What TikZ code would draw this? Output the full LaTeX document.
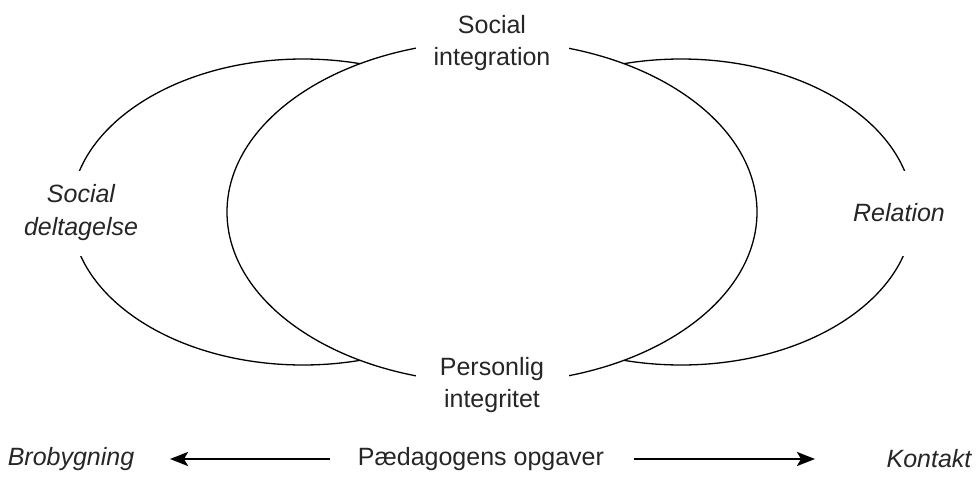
\documentclass[tikz,border=0pt]{standalone}
\usepackage{fontspec}
\setmainfont{Liberation Sans}
\usetikzlibrary{arrows.meta}
\begin{document}
\begin{tikzpicture}[x=1pt,y=-1pt,
  ell/.style={draw=black,line width=1.3pt},
  lbl/.style={font=\fontsize{25}{32}\selectfont,align=center,fill=white,text=black!85,inner sep=3pt},
  ilbl/.style={lbl,font=\fontsize{25}{33}\selectfont\itshape},
  arr/.style={line width=2.6pt,-{Stealth[length=18pt,width=14pt,inset=4pt]}}]
\useasboundingbox (0,0) rectangle (979,490);
% outer ellipses
\draw[ell] (303,212) ellipse [x radius=232, y radius=153];
\draw[ell] (681,212) ellipse [x radius=232, y radius=153];
% middle ellipse hides inner parts
\draw[ell,fill=white] (492,212) ellipse [x radius=265, y radius=171];
% labels on the ellipses (white boxes make the gaps)
\node[lbl,minimum width=153pt] (ntop) at (492,43) {Social\\integration};
\node[lbl,minimum width=153pt] (nbot) at (492,385) {Personlig\\integritet};
\node[ilbl,minimum height=85pt] (nleft) at (81,213) {Social\\deltagelse};
\node[ilbl,minimum height=85pt] (nright) at (899,213) {Relation};
% bottom row
\node[lbl] (nmid) at (481,459) {P\ae dagogens opgaver};
\node[ilbl] (nbro) at (71,459) {Brobygning};
\node[ilbl] (nkon) at (929,459) {Kontakt};
\coordinate (la) at (330,459);
\coordinate (lb) at (170,459);
\coordinate (ra) at (634,459);
\coordinate (rb) at (815,459);
\draw[arr] (la) -- (lb);
\draw[arr] (ra) -- (rb);
\end{tikzpicture}
\end{document}
